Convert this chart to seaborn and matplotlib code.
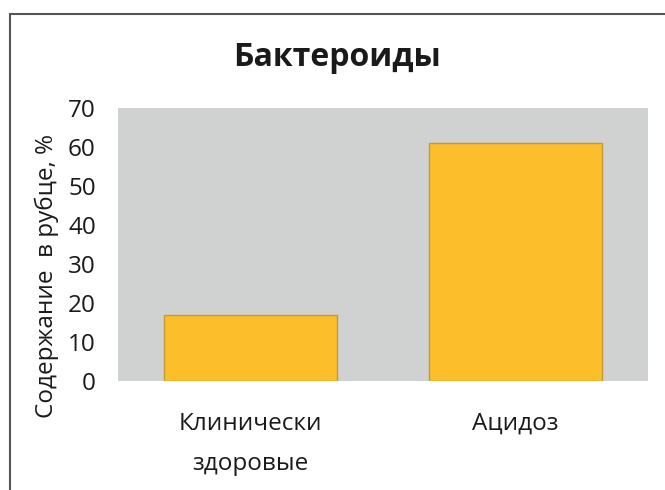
import matplotlib
matplotlib.use("Agg")
import matplotlib.pyplot as plt
import seaborn as sns
import pandas as pd
from matplotlib.lines import Line2D

# dados
grupos = ["Клинически\nздоровые", "Ацидоз"]
valores = [16.8, 60.9]
yticks = [0, 10, 20, 30, 40, 50, 60, 70]

df = pd.DataFrame({"grupo": grupos, "valor": valores})

sns.set_style("white")
plt.rcParams["font.family"] = ["Open Sans", "DejaVu Sans"]

fig = plt.figure(figsize=(6.65, 4.9), dpi=100)
ax = fig.add_axes([118 / 665, 1 - 381 / 490, 530 / 665, 273 / 490])

sns.barplot(data=df, x="grupo", y="valor", color="#FDBE2B", width=0.65,
            edgecolor="#C49A35", linewidth=1, saturation=1, ax=ax)

ax.set_facecolor("#D0D2D1")
ax.set_ylim(0, 70)
ax.set_yticks(yticks)
ax.set_xlim(-0.5, 1.5)
for s in ax.spines.values():
    s.set_visible(False)
ax.tick_params(axis="y", length=0, labelsize=17.5, colors="#1a1a1a", pad=16)
ax.tick_params(axis="x", length=0, labelsize=17.5, colors="#1a1a1a", pad=22)
for lab in ax.get_xticklabels():
    lab.set_linespacing(1.9)
    lab.set_verticalalignment("top")
ax.set_xlabel("")
ax.set_ylabel("Содержание  в рубце, %", fontsize=17.5, color="#1a1a1a")
ax.yaxis.set_label_coords(-0.112, 0.385)
fig.text(337 / 665, 1 - 57 / 490, "Бактероиды", ha="center", va="center",
         fontsize=23, fontweight="bold", color="#1a1a1a")

# moldura cortada (só esquerda e topo)
fig.add_artist(Line2D([10 / 665, 10 / 665], [0, 1 - 14 / 490],
                      transform=fig.transFigure, color="#555555", lw=1.5))
fig.add_artist(Line2D([10 / 665, 1], [1 - 14 / 490, 1 - 14 / 490],
                      transform=fig.transFigure, color="#555555", lw=1.5))

fig.savefig("out.png", dpi=100)
